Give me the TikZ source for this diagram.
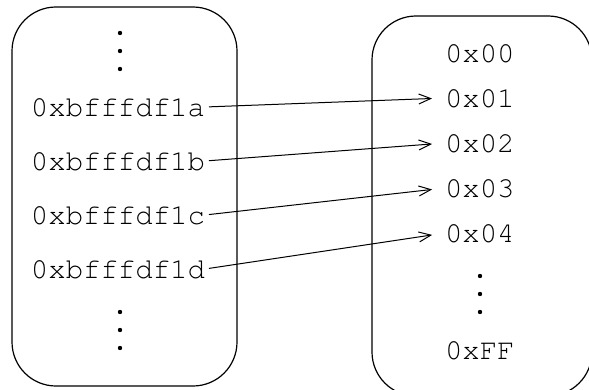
\documentclass[tikz,border=0pt]{standalone}
\usepackage[T1]{fontenc}
\usepackage{courier}
\usetikzlibrary{arrows.meta}
\begin{document}
\begin{tikzpicture}[x=0.5pt,y=-0.5pt,line width=0.6pt,
  mem/.style={draw,rounded corners=22pt},
  addr/.style={font=\ttfamily\fontsize{14.5}{16}\selectfont,inner sep=0pt,outer sep=0pt,anchor=west},
  ptr/.style={-{Straight Barb[length=6pt,width=5pt]},line width=0.5pt,shorten <=2pt,shorten >=6.5pt},
  vdot/.style={circle,fill,inner sep=0pt,minimum size=2.2pt}]
\useasboundingbox (0,0) rectangle (589,390);

% the two memory blocks
\draw[mem] (12,7) rectangle (237,386);
\draw[mem] (372,16) rectangle (592,396);

% stack addresses
\node[vdot] (l1) at (120,33) {};
\node[vdot] (l2) at (120,51) {};
\node[vdot] (l3) at (120,69) {};
\node[addr] (a) at (31,107) {0xbfffdf1a};
\node[addr] (b) at (31,161) {0xbfffdf1b};
\node[addr] (c) at (31,215) {0xbfffdf1c};
\node[addr] (d) at (31,269) {0xbfffdf1d};
\node[vdot] (l4) at (120,312) {};
\node[vdot] (l5) at (120,330) {};
\node[vdot] (l6) at (120,348) {};

% byte values
\node[addr] (v0) at (445,53) {0x00};
\node[addr] (v1) at (445,98) {0x01};
\node[addr] (v2) at (445,143) {0x02};
\node[addr] (v3) at (445,188) {0x03};
\node[addr] (v4) at (445,233) {0x04};
\node[vdot] (r1) at (480,276) {};
\node[vdot] (r2) at (480,294) {};
\node[vdot] (r3) at (480,312) {};
\node[addr] (vf) at (445,350) {0xFF};

% pointers
\draw[ptr] (a.east) -- (v1.west);
\draw[ptr] (b.east) -- (v2.west);
\draw[ptr] (c.east) -- (v3.west);
\draw[ptr] (d.east) -- (v4.west);
\end{tikzpicture}
\end{document}
